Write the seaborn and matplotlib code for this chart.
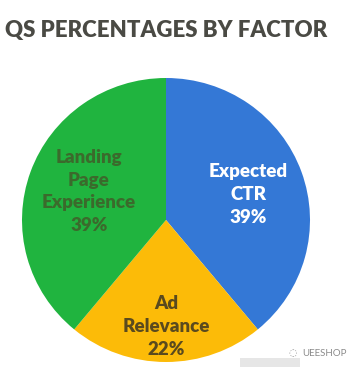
import matplotlib
matplotlib.use("Agg")
import matplotlib.pyplot as plt
import seaborn as sns
from matplotlib.patches import Rectangle

categories = ["Expected\nCTR", "Ad\nRelevance", "Landing\nPage\nExperience"]
values = [39, 22, 39]
colors = ["#3478d6", "#fcbb08", "#20b43f"]
text_colors = ["#ffffff", "#5a4a1e", "#3b6a2c"]
title = "QS PERCENTAGES BY FACTOR"

sns.set_theme(style="white")
plt.rcParams['font.family'] = ['Lato', 'DejaVu Sans']

W, H = 356, 367
fig = plt.figure(figsize=(W / 100, H / 100), dpi=100)
fig.patch.set_facecolor("white")

# pie axes: x 22..310, y(top-down) 78..362
ax = fig.add_axes([22 / W, (H - 362) / H, 288 / W, 284 / H])
wedges, _ = ax.pie(values, colors=colors, startangle=90, counterclock=False,
                   radius=1.0, wedgeprops=dict(linewidth=0))
ax.set_xlim(-1, 1)
ax.set_ylim(-1, 1)
ax.set_aspect("auto")
ax.axis("off")

label_pos = [(0.57, 0.18), (0.0, -0.75), (-0.535, 0.2)]
for cat, val, tc, (x, y) in zip(categories, values, text_colors, label_pos):
    ax.text(x, y, f"{cat}\n{val}%", ha="center", va="center", color=tc,
            fontsize=13.5, fontweight="heavy", linespacing=1.4)

fig.text(5 / W, 1 - 31 / H, title, ha="left", va="center", color="#4a4a44",
         fontsize=16, fontweight="heavy")

fig.text(347 / W, 1 - 353 / H, "UEESHOP", ha="right", va="center",
         color="#8a8a8a", fontsize=7)
fig.text(293 / W, 1 - 353 / H, "◌", ha="center", va="center",
         color="#9a9a9a", fontsize=7, family=['DejaVu Sans'])

fig.patches.append(Rectangle((240 / W, 0), 60 / W, 9 / H, transform=fig.transFigure,
                             facecolor="#e6e6e6", edgecolor="none", zorder=5))

fig.savefig("out.png", dpi=100, facecolor="white")
